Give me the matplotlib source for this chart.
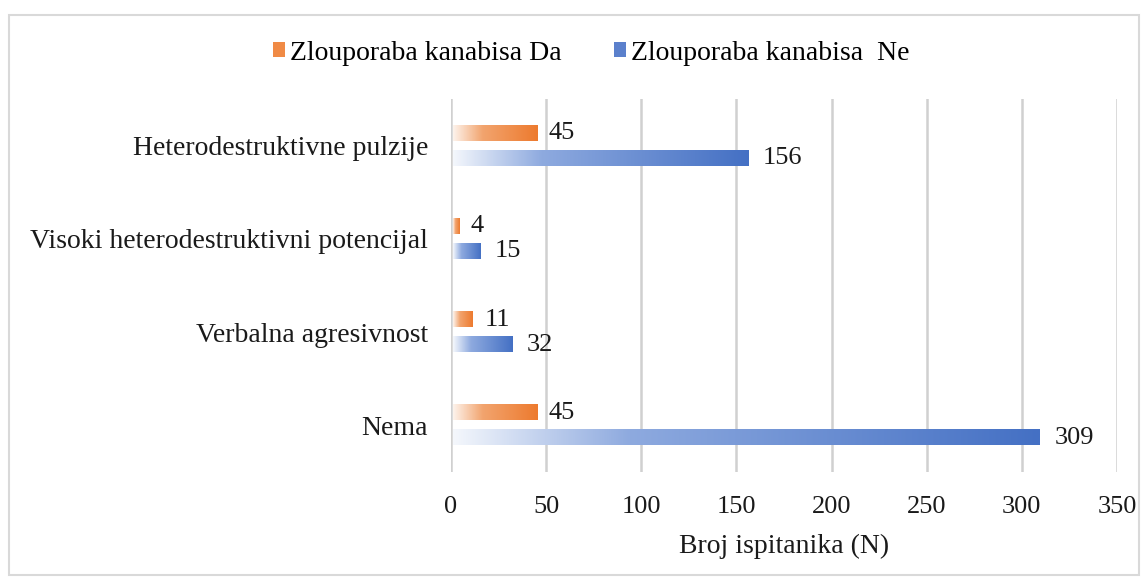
import matplotlib
matplotlib.use("Agg")
import matplotlib.pyplot as plt
import numpy as np
from matplotlib.patches import Patch, Rectangle
from matplotlib.colors import LinearSegmentedColormap

categories = ["Nema", "Verbalna agresivnost", "Visoki heterodestruktivni potencijal", "Heterodestruktivne pulzije"]
da_values = [45, 11, 4, 45]
ne_values = [309, 32, 15, 156]
series_names = ["Zlouporaba kanabisa Da", "Zlouporaba kanabisa  Ne"]
xticks = [0, 50, 100, 150, 200, 250, 300, 350]

plt.rcParams['font.family'] = ['Liberation Serif', 'DejaVu Serif']

W, H = 1148, 580
fig = plt.figure(figsize=(W / 100, H / 100), dpi=100)
ax = fig.add_axes([451 / W, 1 - 472 / H, (1117 - 451) / W, (472 - 99) / H])

orange_cmap = LinearSegmentedColormap.from_list(
    "o", [(0, "#FDF3EC"), (0.35, "#F2A46E"), (1, "#ED7A2E")])
blue_cmap = LinearSegmentedColormap.from_list(
    "b", [(0, "#F4F7FC"), (0.3, "#8EAADF"), (1, "#4470C4")])

bar_h = 15 / 93
off = 12.5 / 93
y = np.arange(len(categories))
grad = np.linspace(0, 1, 256).reshape(1, -1)

def gbar(yc, val, cmap):
    ax.imshow(grad, cmap=cmap, aspect='auto', interpolation='bilinear',
              extent=(0.8, val, yc - bar_h / 2, yc + bar_h / 2), zorder=3)

for i in range(len(categories)):
    gbar(y[i] + off, da_values[i], orange_cmap)
    gbar(y[i] - off, ne_values[i], blue_cmap)
    ax.text(da_values[i] + 6.5, y[i] + off, str(da_values[i]), va='center', ha='left',
            fontsize=19, color='#1a1a1a')
    ax.text(ne_values[i] + 8, y[i] - off, str(ne_values[i]), va='center', ha='left',
            fontsize=19, color='#1a1a1a')

ax.set_xlim(0, 350)
ax.set_ylim(-0.5, 3.5)
ax.set_xticks(xticks)
ax.set_xticklabels([str(t) for t in xticks], fontsize=19, color='#1a1a1a')
ax.set_yticks(y)
ax.set_yticklabels(categories, fontsize=20, color='#1a1a1a')
ax.tick_params(length=0, pad=16.5, axis='y')
ax.tick_params(length=0, pad=17.5, axis='x')
ax.grid(axis='x', color='#D0D0D0', linewidth=1.8, zorder=0)
ax.set_axisbelow(True)
for s in ax.spines.values():
    s.set_visible(False)
ax.set_xlabel("Broj ispitanika (N)", fontsize=20, color='#1a1a1a', labelpad=11)

handles = [Patch(facecolor="#F08A45", edgecolor='none'), Patch(facecolor="#5B80CC", edgecolor='none')]
fig.legend(handles, series_names, loc='center', bbox_to_anchor=(591 / W, 1 - 53 / H),
           ncol=2, frameon=False, fontsize=20, handlelength=0.45, handleheight=0.45,
           handletextpad=0.15, columnspacing=1.9, borderpad=0)

fig.patches.append(Rectangle((8.5 / W, 1 - 575 / H), (1139 - 8.5) / W, (575 - 14.5) / H,
                             transform=fig.transFigure, fill=False, edgecolor='#D9D9D9',
                             linewidth=1.5))

fig.savefig("out.png", dpi=100)
